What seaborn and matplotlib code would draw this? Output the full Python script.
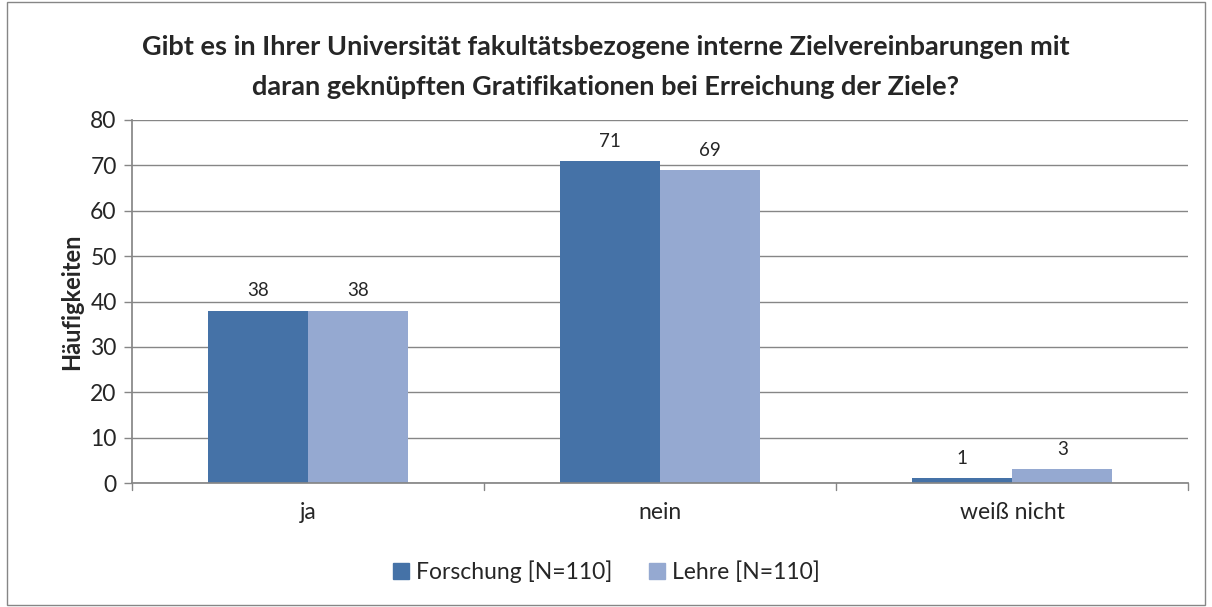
import matplotlib
matplotlib.use("Agg")
import matplotlib.pyplot as plt
import seaborn as sns
import pandas as pd
from matplotlib.patches import Rectangle

categories = ["ja", "nein", "weiß nicht"]
forschung = [38, 71, 1]
lehre = [38, 69, 3]
series_names = ["Forschung [N=110]", "Lehre [N=110]"]
yticks = [0, 10, 20, 30, 40, 50, 60, 70, 80]

df = pd.DataFrame({
    "Kategorie": categories * 2,
    "Wert": forschung + lehre,
    "Serie": [series_names[0]] * 3 + [series_names[1]] * 3,
})

sns.set_theme(style="white")
plt.rcParams['font.family'] = ['Lato', 'DejaVu Sans']

fig = plt.figure(figsize=(12.12, 6.07), dpi=100)
ax = fig.add_axes([132/1212, 1 - 483/607, (1188-132)/1212, (483-120)/607])

colors = ["#4572A7", "#95A9D1"]
sns.barplot(data=df, x="Kategorie", y="Wert", hue="Serie", palette=colors,
            width=0.57, ax=ax, saturation=1, legend=False, linewidth=0)

ax.set_ylim(0, 80)
ax.set_xlim(-0.5, 2.5)
ax.set_yticks(yticks)
ax.set_yticklabels([str(v) for v in yticks], fontsize=16.5)
ax.tick_params(axis='y', length=6, width=1, color="#868686", pad=5, direction='out', left=True)
ax.set_xticks([0, 1, 2])
ax.set_xticklabels(categories, fontsize=16.5)
ax.tick_params(axis='x', length=0, pad=14)
for b in [-0.5, 0.5, 1.5, 2.5]:
    ax.plot([b, b], [0, -1.6], color="#868686", lw=1, clip_on=False)

ax.yaxis.grid(True, color="#868686", lw=1)
ax.set_axisbelow(True)
for s in ["top", "right"]:
    ax.spines[s].set_visible(False)
ax.spines["left"].set_color("#868686")
ax.spines["bottom"].set_color("#868686")

ax.set_xlabel("")
ax.set_ylabel("Häufigkeiten", fontsize=17, fontweight="bold", labelpad=5)

for cont in ax.containers:
    ax.bar_label(cont, padding=8, fontsize=13.5)

fig.text(0.5, 1 - 47/607, "Gibt es in Ihrer Universität fakultätsbezogene interne Zielvereinbarungen mit",
         ha="center", va="center", fontsize=19.5, fontweight="bold")
fig.text(0.5, 1 - 87/607, "daran geknüpften Gratifikationen bei Erreichung der Ziele?",
         ha="center", va="center", fontsize=19.5, fontweight="bold")

handles = [Rectangle((0, 0), 1, 1, color=c) for c in colors]
fig.legend(handles, series_names, loc="center", bbox_to_anchor=(0.5, 1 - 572/607),
           ncol=2, frameon=False, fontsize=16.5, handlelength=0.7, handleheight=0.7,
           handletextpad=0.3, columnspacing=1.6)

fig.patches.append(Rectangle((7/1212, 2/607), 1 - 14/1212, 1 - 4/607, transform=fig.transFigure,
                             fill=False, edgecolor="#868686", lw=1))

fig.savefig("out.png", dpi=100)
